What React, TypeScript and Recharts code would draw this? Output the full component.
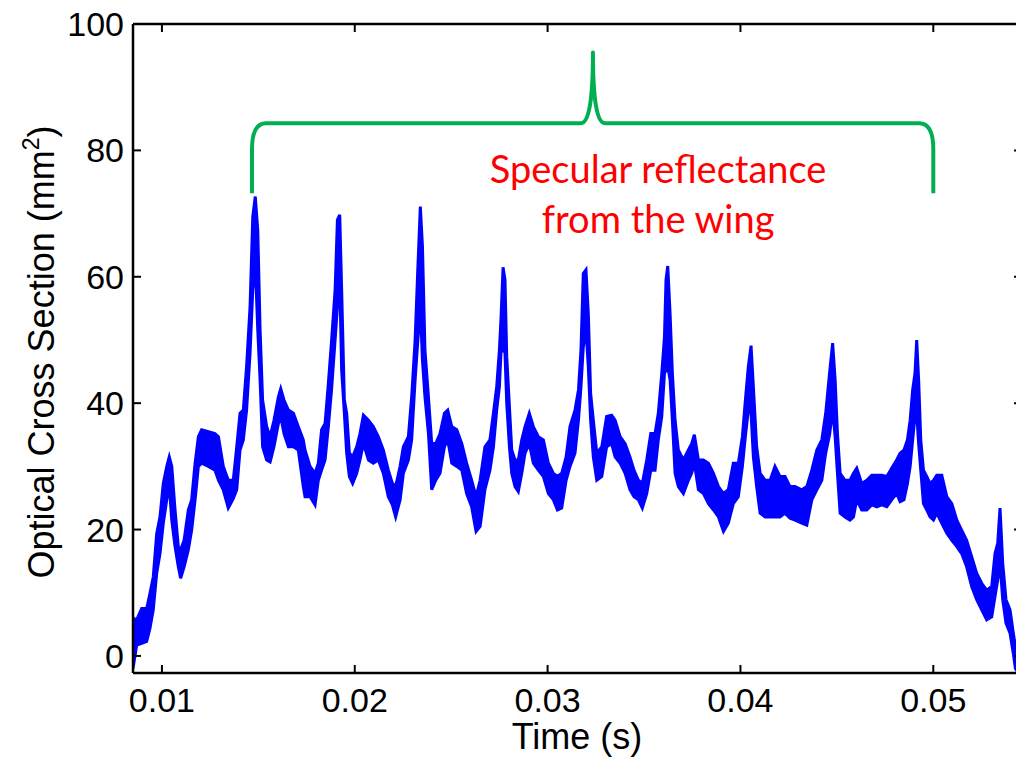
import React from 'react';
import { ComposedChart, Area, XAxis, YAxis } from 'recharts';

// Time (s)
const TIME = [
  0.0085, 0.00869, 0.00895, 0.00921, 0.00938, 0.00955, 0.00973, 0.0099, 0.01007, 0.01025,
  0.01038, 0.01051, 0.01068, 0.01085, 0.01097, 0.01115, 0.01137, 0.01154, 0.01172, 0.01189,
  0.01206, 0.01241, 0.01275, 0.01293, 0.01318, 0.01344, 0.0137, 0.01388, 0.01405, 0.01422,
  0.01439, 0.01457, 0.01471, 0.01484, 0.01497, 0.01509, 0.01522, 0.01543, 0.01561, 0.01581,
  0.01604, 0.01616, 0.01633, 0.01656, 0.01682, 0.01707, 0.01733, 0.01742, 0.01768, 0.01794,
  0.01811, 0.01828, 0.01846, 0.01863, 0.0188, 0.01898, 0.0191, 0.01922, 0.01932, 0.01946,
  0.01958, 0.01972, 0.01989, 0.0201, 0.02027, 0.02045, 0.02071, 0.02096, 0.02122, 0.02148,
  0.02174, 0.02195, 0.02212, 0.02235, 0.02252, 0.02278, 0.02295, 0.02313, 0.02326, 0.0234,
  0.02351, 0.02364, 0.02382, 0.02399, 0.0242, 0.02442, 0.02465, 0.02482, 0.02503, 0.02529,
  0.02555, 0.0258, 0.02606, 0.02629, 0.0265, 0.02675, 0.02701, 0.02719, 0.02736, 0.0275,
  0.02758, 0.02769, 0.02779, 0.02788, 0.02802, 0.02814, 0.02831, 0.02848, 0.02866, 0.02883,
  0.02905, 0.02926, 0.02952, 0.02978, 0.03004, 0.0303, 0.03051, 0.03073, 0.03096, 0.03116,
  0.03142, 0.0316, 0.03173, 0.03185, 0.03199, 0.03211, 0.03223, 0.03237, 0.03255, 0.03281,
  0.03306, 0.03332, 0.0335, 0.03376, 0.03402, 0.03427, 0.03448, 0.03471, 0.03491, 0.03514,
  0.03535, 0.03557, 0.03574, 0.03592, 0.03606, 0.03614, 0.03623, 0.03635, 0.03647, 0.03661,
  0.03678, 0.03704, 0.0373, 0.03747, 0.03761, 0.03782, 0.03808, 0.03834, 0.0386, 0.03886,
  0.03912, 0.03937, 0.03963, 0.03989, 0.0401, 0.04027, 0.04041, 0.04055, 0.04067, 0.04084,
  0.04102, 0.04128, 0.04154, 0.04179, 0.04205, 0.04231, 0.04257, 0.04283, 0.04318, 0.04344,
  0.0437, 0.04396, 0.04422, 0.04442, 0.04462, 0.04478, 0.04491, 0.04503, 0.04517, 0.04542,
  0.04568, 0.04586, 0.04603, 0.04629, 0.04655, 0.04681, 0.04707, 0.04733, 0.04759, 0.04784,
  0.0481, 0.04828, 0.04848, 0.04866, 0.0488, 0.04893, 0.04905, 0.04914, 0.04924, 0.04935,
  0.04949, 0.04966, 0.04983, 0.05001, 0.05018, 0.05044, 0.0507, 0.05096, 0.05122, 0.05147,
  0.05173, 0.05199, 0.05225, 0.05251, 0.05277, 0.05303, 0.0532, 0.05334, 0.05346, 0.0536,
  0.05377, 0.05398, 0.05415, 0.05426, 0.0544,
];

// Upper edge of the noisy trace (mm^2)
const UPPER = [
  6.0, 5.7, 7.5, 7.5, 9.9, 12.5, 19.4, 22.0, 27.3, 30.0,
  31.5, 30.0, 23.1, 17.3, 16.8, 18.3, 23.1, 24.7, 30.5, 34.7,
  35.8, 35.5, 35.2, 34.7, 30.0, 27.8, 27.8, 33.1, 38.4, 38.9,
  45.8, 55.3, 69.5, 72.7, 67.4, 51.6, 40.5, 36.3, 34.7, 37.3,
  41.0, 42.3, 40.5, 38.9, 38.4, 36.3, 34.2, 32.6, 30.0, 28.9,
  30.5, 35.8, 36.8, 43.1, 50.0, 57.9, 69.0, 69.8, 57.9, 40.5,
  38.4, 32.1, 31.5, 33.1, 35.2, 38.1, 37.3, 36.3, 34.7, 32.6,
  29.4, 27.3, 26.8, 30.0, 33.1, 34.7, 41.0, 50.0, 60.5, 71.1,
  64.8, 48.4, 41.0, 33.6, 33.6, 35.2, 38.4, 38.9, 36.3, 35.8,
  33.6, 30.5, 27.8, 25.2, 27.8, 33.1, 34.2, 38.4, 42.6, 48.4,
  53.2, 61.5, 59.5, 47.4, 39.4, 32.6, 31.0, 31.0, 34.2, 36.3,
  38.4, 36.3, 34.7, 34.2, 30.5, 28.9, 28.4, 28.9, 31.5, 36.3,
  38.9, 42.1, 48.4, 60.5, 61.1, 54.2, 41.6, 37.3, 32.1, 33.1,
  37.9, 38.1, 37.3, 34.7, 33.6, 31.5, 29.4, 27.8, 27.3, 31.0,
  35.2, 35.2, 38.4, 44.7, 50.5, 59.5, 61.7, 54.2, 44.7, 37.3,
  32.6, 31.0, 32.6, 33.6, 35.0, 31.0, 31.0, 30.5, 28.9, 26.8,
  25.7, 26.3, 30.5, 30.5, 34.7, 41.0, 45.8, 49.1, 42.6, 33.1,
  28.9, 27.8, 27.8, 30.0, 28.4, 28.4, 26.8, 26.8, 26.3, 26.8,
  29.4, 32.6, 34.2, 38.4, 44.7, 49.5, 43.7, 35.2, 28.9, 27.8,
  27.8, 28.9, 29.7, 27.3, 27.8, 28.6, 28.6, 28.6, 28.4, 29.7,
  31.0, 32.1, 32.6, 34.2, 37.3, 42.1, 44.7, 50.0, 43.7, 34.2,
  29.4, 28.4, 27.3, 27.8, 28.6, 28.6, 25.2, 24.1, 21.5, 19.9,
  18.3, 15.7, 13.1, 11.5, 10.4, 11.0, 16.2, 17.8, 23.4, 14.7,
  8.9, 7.3, 3.6, 1.5, -0.5,
];

// Lower edge of the noisy trace (mm^2)
const LOWER = [
  -2.0, 1.7, 2.0, 2.3, 4.4, 7.3, 13.1, 16.2, 21.0, 24.7,
  27.0, 21.5, 17.3, 14.1, 12.3, 14.1, 16.8, 19.9, 24.7, 30.0,
  30.5, 30.0, 29.4, 27.8, 26.3, 23.4, 24.9, 26.3, 32.6, 34.2,
  38.9, 47.9, 57.9, 62.1, 51.6, 43.7, 33.1, 31.0, 30.7, 33.1,
  36.8, 37.9, 35.2, 33.1, 33.1, 32.6, 26.8, 25.2, 25.2, 23.9,
  27.8, 29.4, 31.0, 36.3, 42.3, 50.0, 55.3, 59.5, 45.2, 38.4,
  32.1, 28.4, 27.3, 28.9, 31.0, 33.6, 31.0, 30.5, 31.0, 28.9,
  25.2, 23.9, 22.0, 24.7, 28.9, 31.0, 34.2, 43.7, 49.5, 55.3,
  46.8, 41.0, 35.2, 26.3, 27.8, 28.9, 33.1, 34.2, 30.5, 30.0,
  29.4, 25.7, 23.6, 19.7, 20.5, 26.3, 29.4, 33.1, 38.9, 42.6,
  47.9, 48.9, 47.9, 40.0, 33.1, 28.9, 26.8, 26.0, 28.9, 32.1,
  33.6, 30.5, 29.4, 28.4, 25.7, 24.7, 23.1, 23.4, 27.8, 30.0,
  32.1, 37.3, 42.6, 48.9, 51.6, 45.8, 37.3, 31.5, 27.8, 28.4,
  33.1, 33.6, 31.5, 30.5, 28.9, 26.3, 25.2, 24.7, 23.4, 25.7,
  29.4, 29.4, 34.2, 37.9, 44.7, 45.2, 45.8, 43.7, 37.3, 28.9,
  26.8, 25.7, 27.8, 28.9, 30.5, 26.3, 25.7, 24.1, 23.1, 22.0,
  19.7, 21.0, 24.1, 25.2, 30.0, 35.2, 38.9, 38.4, 31.5, 26.8,
  22.6, 22.0, 22.0, 22.0, 22.0, 22.6, 21.8, 21.5, 21.0, 20.7,
  24.7, 26.3, 27.8, 32.1, 35.0, 38.9, 34.7, 28.9, 22.6, 22.0,
  21.5, 22.0, 24.7, 23.1, 23.1, 23.9, 23.6, 23.9, 23.6, 24.7,
  25.7, 24.4, 24.7, 27.3, 30.0, 34.2, 37.9, 38.4, 33.6, 29.4,
  24.1, 23.1, 22.0, 21.5, 22.6, 21.0, 19.4, 18.3, 17.3, 16.2,
  14.1, 11.0, 8.9, 7.3, 5.7, 6.2, 9.4, 12.0, 14.7, 8.9,
  5.2, 3.6, 0.4, -2.0, -2.6,
];

const X_TICKS = [0.01, 0.02, 0.03, 0.04, 0.05];
const Y_TICKS = [0, 20, 40, 60, 80, 100];
const X_DOMAIN: [number, number] = [0.0085, 0.0546];
const Y_DOMAIN: [number, number] = [-2.7, 100];

// Annotation (in data units)
const BRACE = { start: 0.01467, peak: 0.03235, end: 0.05, foot: 73.2, bar: 84.3, tip: 95.5 };
const NOTE_LINES = ['Specular reflectance', 'from the wing'];
const NOTE_POS = { t: 0.03573, v: [74.8, 67.0] };
const X_LABEL = 'Time (s)';
const Y_LABEL = 'Optical Cross Section (mm';

const data = TIME.map((t, i) => ({ t, band: [LOWER[i], UPPER[i]] }));

const W = 1022;
const H = 758;
const PLOT = { left: 133, top: 24, right: 1022, bottom: 673 };
const TICK_LEN = 8;
const sx = (t: number) =>
  PLOT.left + ((t - X_DOMAIN[0]) / (X_DOMAIN[1] - X_DOMAIN[0])) * (PLOT.right - PLOT.left);
const sy = (v: number) =>
  PLOT.bottom - ((v - Y_DOMAIN[0]) / (Y_DOMAIN[1] - Y_DOMAIN[0])) * (PLOT.bottom - PLOT.top);

const AXIS_FONT = "'Liberation Sans', Arial, sans-serif";
const tickStyle = { fontSize: 34, fill: '#000', fontFamily: AXIS_FONT };
const lineStyle = { stroke: '#000', strokeWidth: 2.5 };

function Overlay() {
  const xl = sx(BRACE.start);
  const xr = sx(BRACE.end);
  const xp = sx(BRACE.peak);
  const yb = sy(BRACE.bar);
  const yf = sy(BRACE.foot);
  const yt = sy(BRACE.tip);
  const d = [
    `M ${xl} ${yf}`,
    `L ${xl} ${yb + 26}`,
    `Q ${xl} ${yb} ${xl + 14} ${yb}`,
    `L ${xp - 12} ${yb}`,
    `Q ${xp} ${yb} ${xp} ${yt}`,
    `Q ${xp} ${yb} ${xp + 12} ${yb}`,
    `L ${xr - 14} ${yb}`,
    `Q ${xr} ${yb} ${xr} ${yb + 26}`,
    `L ${xr} ${yf}`,
  ].join(' ');
  const nx = sx(NOTE_POS.t);
  return (
    <svg
      width={W}
      height={H}
      style={{ position: 'absolute', left: 0, top: 0, pointerEvents: 'none' }}
    >
      {/* box frame: top edge and inward tick marks on all sides */}
      <line x1={PLOT.left} y1={PLOT.top} x2={PLOT.right} y2={PLOT.top} stroke="#000" strokeWidth={2.5} />
      <line x1={PLOT.right} y1={PLOT.top} x2={PLOT.right} y2={PLOT.bottom} stroke="#000" strokeWidth={2.5} />
      {X_TICKS.map((t) => (
        <g key={`xt${t}`}>
          <line x1={sx(t)} y1={PLOT.bottom} x2={sx(t)} y2={PLOT.bottom - TICK_LEN} stroke="#000" strokeWidth={2} />
          <line x1={sx(t)} y1={PLOT.top} x2={sx(t)} y2={PLOT.top + TICK_LEN} stroke="#000" strokeWidth={2} />
        </g>
      ))}
      {Y_TICKS.map((v) => (
        <g key={`yt${v}`}>
          <line x1={PLOT.left} y1={sy(v)} x2={PLOT.left + TICK_LEN} y2={sy(v)} stroke="#000" strokeWidth={2} />
          <line x1={PLOT.right} y1={sy(v)} x2={PLOT.right - TICK_LEN} y2={sy(v)} stroke="#000" strokeWidth={2} />
        </g>
      ))}
      <path d={d} fill="none" stroke="#00B050" strokeWidth={4} strokeLinejoin="round" />
      {NOTE_LINES.map((s, i) => (
        <text
          key={s}
          x={nx}
          y={sy(NOTE_POS.v[i])}
          textAnchor="middle"
          fill="#FF0000"
          fontFamily="Lato, 'Open Sans', sans-serif"
          fontSize={38}
        >
          {s}
        </text>
      ))}
      <text
        x={577}
        y={749}
        textAnchor="middle"
        fill="#000"
        fontFamily={AXIS_FONT}
        fontSize={36}
      >
        {X_LABEL}
      </text>
      <text
        transform={`translate(54, 352) rotate(-90)`}
        textAnchor="middle"
        fill="#000"
        fontFamily={AXIS_FONT}
        fontSize={36}
      >
        {Y_LABEL}
        <tspan fontSize={23} dy={-15}>2</tspan>
        <tspan dy={15}>)</tspan>
      </text>
    </svg>
  );
}

export default function App() {
  return (
    <div
      style={{
        position: 'absolute',
        left: 0,
        top: 0,
        width: 1016,
        height: 758,
        overflow: 'hidden',
        background: '#fff',
      }}
    >
      <ComposedChart
        width={W}
        height={H}
        data={data}
        margin={{ top: 24, right: 0, bottom: 0, left: 0 }}
      >
        <XAxis
          xAxisId="bottom"
          dataKey="t"
          type="number"
          domain={X_DOMAIN}
          allowDataOverflow
          ticks={X_TICKS}
          tickFormatter={(v: number) => String(Number(v.toFixed(2)))}
          height={85}
          tick={tickStyle}
          tickSize={0}
          tickMargin={15}
          axisLine={lineStyle}
          tickLine={false}
        />
        <YAxis
          yAxisId="left"
          type="number"
          domain={Y_DOMAIN}
          allowDataOverflow
          ticks={Y_TICKS}
          width={133}
          tick={tickStyle}
          tickSize={0}
          tickMargin={9}
          axisLine={lineStyle}
          tickLine={false}
        />
        <Area
          xAxisId="bottom"
          yAxisId="left"
          dataKey="band"
          type="linear"
          stroke="#0000FF"
          strokeWidth={3}
          fill="#0000FF"
          fillOpacity={1}
          dot={false}
          activeDot={false}
          isAnimationActive={false}
        />
      </ComposedChart>
      <Overlay />
    </div>
  );
}
